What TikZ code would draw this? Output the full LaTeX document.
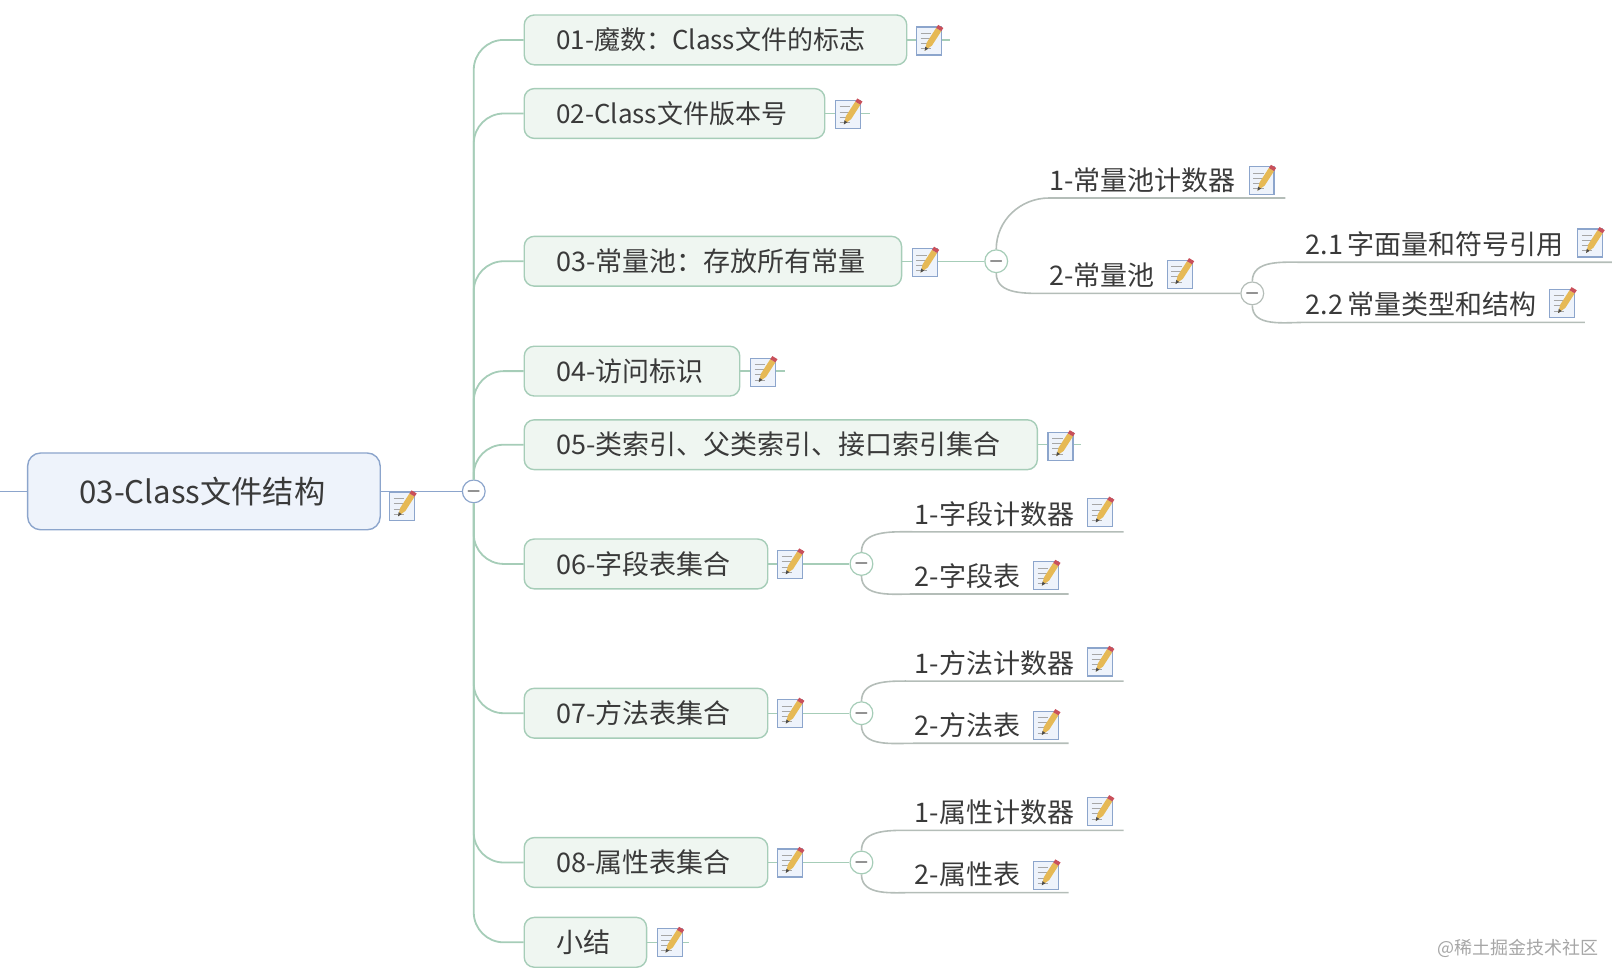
\documentclass[tikz,border=0pt]{standalone}
\usepackage{fontspec}
\usepackage{xcolor}
\setmainfont{Noto Sans CJK SC}
\definecolor{rootfill}{HTML}{EEF3FB}
\definecolor{rootline}{HTML}{8CA5CC}
\definecolor{topicfill}{HTML}{EFF6F1}
\definecolor{topicline}{HTML}{A6CDB8}
\definecolor{leafline}{HTML}{B4BDB8}
\definecolor{inktext}{HTML}{3A3A3A}
\definecolor{pencilbody}{HTML}{E6B955}
\definecolor{penciltop}{HTML}{C9505A}
\tikzstyle{node:root}=[draw=rootline,fill=rootfill,rounded corners=6.5pt,line width=0.7pt,anchor=west,minimum height=38.4pt,inner xsep=25.9pt,inner ysep=0pt,align=left,text=inktext,font=\fontsize{15.6}{18}\selectfont]
\tikzstyle{node:topic}=[draw=topicline,fill=topicfill,rounded corners=5pt,line width=0.7pt,anchor=west,minimum height=24.9pt,inner xsep=16pt,inner ysep=0pt,align=left,text=inktext,font=\fontsize{13.5}{15}\selectfont]
\tikzstyle{node:leaf}=[anchor=south west,minimum height=17.6pt,inner xsep=0pt,inner ysep=0pt,align=left,text=inktext,font=\fontsize{13.5}{15}\selectfont]
\tikzstyle{node:toggle}=[circle,draw=topicline,fill=white,minimum size=11.4pt,inner sep=0pt,line width=0.6pt,text=inktext,font=\footnotesize\boldmath]
\tikzstyle{draw:root}=[rootline,line width=0.8pt]
\tikzstyle{draw:branch}=[topicline,line width=0.9pt,rounded corners=15pt]
\tikzstyle{draw:leaf}=[leafline,line width=0.8pt]
\tikzset{
    pics/note/.style={code={
        \draw[draw=rootline,fill=rootfill,line width=0.6pt] (-12,-13) rectangle (12,14);
        \foreach \k in {-7,-2,3,8} {
            \draw[gray!70,line width=0.4pt] (-8,\k) -- (2,\k);
        }
        \fill[pencilbody] (-4,10) -- (-2,2) -- (7,-12) -- (12,-9) -- (3,5) -- cycle;
        \fill[penciltop] (7,-12) -- (9,-15) -- (14,-12) -- (12,-9) -- cycle;
        \fill[black!70] (-4,10) -- (-3.4,6) -- (-0.6,8) -- cycle;
    }}
}

\begin{document}
\begin{tikzpicture}[x=0.5184pt,y=-0.5184pt]
        \useasboundingbox (0,0) rectangle (1555,943.4);

        % Root topic
        \node[node:root,text width=124.5pt] (R) at (26,474) {03-Class文件结构};
        \coordinate (R-in) at (0,474);
        \node[node:toggle,draw=rootline] (C0) at (457,474) {$-$};

        % First level topics
        \node[node:topic,text width=159.3pt,font=\fontsize{13}{15}\selectfont] (T1) at (505,38.5) {01-魔数：Class文件的标志};
        \node[node:topic,text width=118.3pt,font=\fontsize{13}{15}\selectfont] (T2) at (505,109.5) {02-Class文件版本号};
        \node[node:topic,text width=156.7pt] (T3) at (505,252) {03-常量池：存放所有常量};
        \node[node:topic,text width=75.8pt] (T4) at (505,358) {04-访问标识};
        \node[node:topic,text width=224.6pt] (T5) at (505,429) {05-类索引、父类索引、接口索引集合};
        \node[node:topic,text width=89.8pt] (T6) at (505,544) {06-字段表集合};
        \node[node:topic,text width=89.8pt] (T7) at (505,688) {07-方法表集合};
        \node[node:topic,text width=89.8pt] (T8) at (505,832) {08-属性表集合};
        \node[node:topic,text width=29.2pt] (T9) at (505,909) {小结};

        % Free ends behind the note icons
        \coordinate (S1) at (916,38.5);
        \coordinate (S2) at (839,109.5);
        \coordinate (S4) at (757,358);
        \coordinate (S5) at (1043,429);
        \coordinate (S9) at (665,909);

        % Toggles
        \node[node:toggle] (C3) at (961,252) {$-$};
        \node[node:toggle,draw=leafline] (C3-2) at (1208,283) {$-$};
        \node[node:toggle] (C6) at (831,544) {$-$};
        \node[node:toggle] (C7) at (831,688) {$-$};
        \node[node:toggle] (C8) at (831,832) {$-$};

        % Constant pool leaves
        \node[node:leaf,text width=117.7pt] (L3-1) at (1012,191) {1-常量池计数器};
        \node[node:leaf,text width=96pt] (L3-2) at (1012,283) {2-常量池};
        \node[node:leaf,text width=153.4pt] (L3-3) at (1259,253) {2.1\,字面量和符号引用};
        \node[node:leaf,text width=139.5pt] (L3-4) at (1259,311) {2.2\,常量类型和结构};

        % Field, method and attribute leaves
        \node[node:leaf,text width=104.2pt] (L6-1) at (882,513) {1-字段计数器};
        \node[node:leaf,text width=76.7pt] (L6-2) at (882,573) {2-字段表};
        \node[node:leaf,text width=104.2pt] (L7-1) at (882,657) {1-方法计数器};
        \node[node:leaf,text width=76.7pt] (L7-2) at (882,717) {2-方法表};
        \node[node:leaf,text width=104.2pt] (L8-1) at (882,801) {1-属性计数器};
        \node[node:leaf,text width=76.7pt] (L8-2) at (882,861) {2-属性表};

        % Root connections
        \draw[draw:root] (R-in) -- (R.west);
        \draw[draw:root] (R.east) -- (C0.west);

        % Spine to the first level topics
        \foreach \i in {1,2,3,4,5} {
                \draw[draw:branch] (C0.north) |- (T\i.west);
            }
        \foreach \i in {6,7,8,9} {
                \draw[draw:branch] (C0.south) |- (T\i.west);
            }
        \foreach \i in {1,2,4,5,9} {
                \draw[draw:branch,line width=0.7pt] (T\i.east) -- (S\i);
            }
        \foreach \i in {3,6,7,8} {
                \draw[draw:branch,line width=0.7pt] (T\i.east) -- (C\i.west);
            }

        % Leaf connections
        \draw[draw:leaf] (C3.north) to[out=90,in=180] (L3-1.south west) -- (L3-1.south east);
        \draw[draw:leaf] (C3.south) to[out=-90,in=180] (L3-2.south west) -- (C3-2.west);
        \draw[draw:leaf] (C3-2.north) to[out=90,in=180] (L3-3.south west) -- (L3-3.south east);
        \draw[draw:leaf] (C3-2.south) to[out=-90,in=180] (L3-4.south west) -- (L3-4.south east);
        \foreach \i in {6,7,8} {
                \draw[draw:leaf] (C\i.north) to[out=90,in=180] (L\i-1.south west) -- (L\i-1.south east);
                \draw[draw:leaf] (C\i.south) to[out=-90,in=180] (L\i-2.south west) -- (L\i-2.south east);
            }

        % Note icons
        \pic at (388,488) {note};
        \pic at (896,39) {note};
        \pic at (818,110) {note};
        \pic at (892,253) {note};
        \pic at (736,358.5) {note};
        \pic at (1023,430) {note};
        \pic at (762,544) {note};
        \pic at (762,688) {note};
        \pic at (762,832) {note};
        \pic at (646,909) {note};
        \pic at (1217,174) {note};
        \pic at (1138,264) {note};
        \pic at (1534,234) {note};
        \pic at (1507,292) {note};
        \pic at (1061,494) {note};
        \pic at (1009,555) {note};
        \pic at (1061,638) {note};
        \pic at (1009,699) {note};
        \pic at (1061,782) {note};
        \pic at (1009,844) {note};

        % Watermark
        \node[anchor=west,inner sep=0pt,text=gray!70,font=\fontsize{9}{11}\selectfont] (W) at (1386,915) {@稀土掘金技术社区};
    \end{tikzpicture}
\end{document}
